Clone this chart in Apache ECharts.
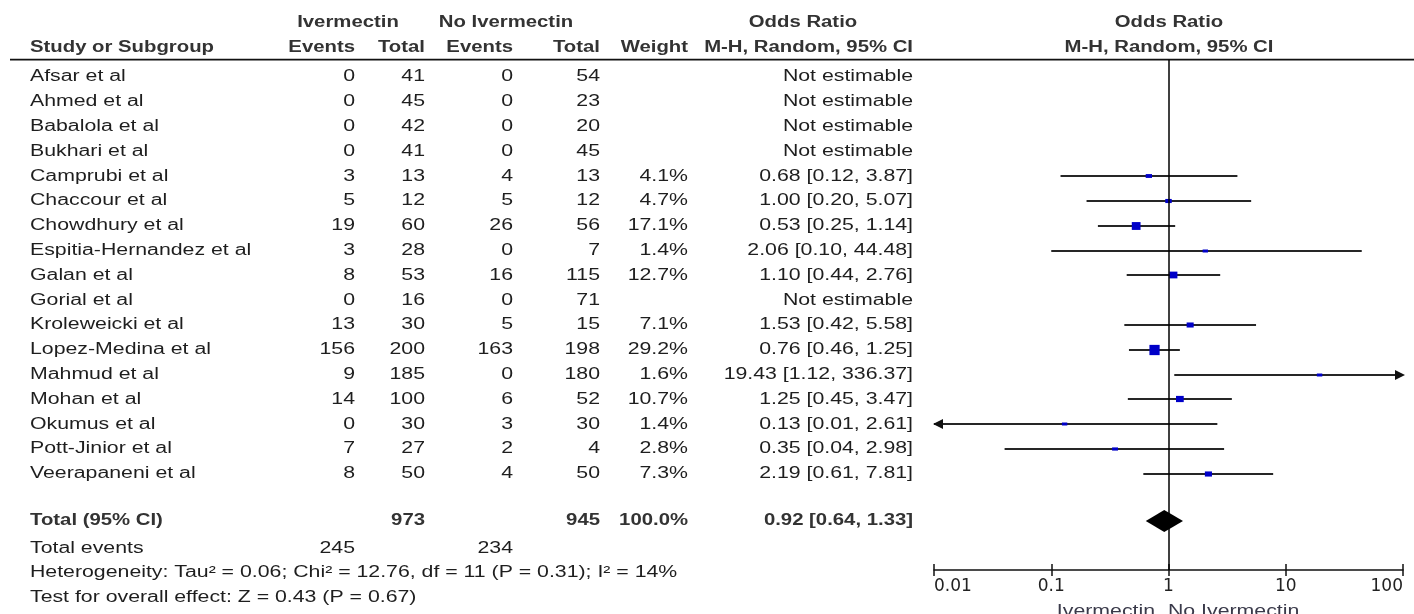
<!DOCTYPE html>
<html>
<head>
<meta charset="utf-8">
<script src="https://cdn.jsdelivr.net/npm/echarts@6/dist/echarts.min.js"></script>
<style>
html,body{margin:0;padding:0;background:#fff;}
#chart{width:1414px;height:614px;}
</style>
</head>
<body>
<div id="chart"></div>
<script>
// ---------------- data ----------------
const studies = ["Afsar et al","Ahmed et al","Babalola et al","Bukhari et al","Camprubi et al","Chaccour et al","Chowdhury et al","Espitia-Hernandez et al","Galan et al","Gorial et al","Kroleweicki et al","Lopez-Medina et al","Mahmud et al","Mohan et al","Okumus et al","Pott-Jinior et al","Veerapaneni et al"];
const ivEvents = [0,0,0,0,3,5,19,3,8,0,13,156,9,14,0,7,8];
const ivTotal  = [41,45,42,41,13,12,60,28,53,16,30,200,185,100,30,27,50];
const noEvents = [0,0,0,0,4,5,26,0,16,0,5,163,0,6,3,2,4];
const noTotal  = [54,23,20,45,13,12,56,7,115,71,15,198,180,52,30,4,50];
const weights  = [null,null,null,null,4.1,4.7,17.1,1.4,12.7,null,7.1,29.2,1.6,10.7,1.4,2.8,7.3];
const orEst    = [null,null,null,null,0.68,1.00,0.53,2.06,1.10,null,1.53,0.76,19.43,1.25,0.13,0.35,2.19];
const ciLow    = [null,null,null,null,0.12,0.20,0.25,0.10,0.44,null,0.42,0.46,1.12,0.45,0.01,0.04,0.61];
const ciHigh   = [null,null,null,null,3.87,5.07,1.14,44.48,2.76,null,5.58,1.25,336.37,3.47,2.61,2.98,7.81];
const totalIv = 973, totalNo = 945, totalWeight = 100.0;
const pooledOR = 0.92, pooledLow = 0.64, pooledHigh = 1.33;
const eventsIv = 245, eventsNo = 234;
const hetText = "Heterogeneity: Tau\u00b2 = 0.06; Chi\u00b2 = 12.76, df = 11 (P = 0.31); I\u00b2 = 14%";
const testText = "Test for overall effect: Z = 0.43 (P = 0.67)";
const tickValues = [0.01, 0.1, 1, 10, 100];
const tickLabels = ["0.01", "0.1", "1", "10", "100"];
const favoursLeft = "Ivermectin", favoursRight = "No Ivermectin";

// ---------------- layout ----------------
const X_MIN = 0.01, X_MAX = 100;
const col = {name: 30, ivE: 355, ivT: 425, noE: 513, noT: 600, wt: 688, ci: 913, ivHead: 348, noHead: 506, orHead: 803, plotHead: 1169};
const rowTop = 77, rowStep = 24.8;
const vHead1 = -2.2, vHead2 = -1.18, vLine = -0.7, vTotal = 17.9, vEvents = 19, vHet = 20, vTest = 21, vFav = 21.55;
const axisPx = 570;
const tableYMin = -rowTop / rowStep, tableYMax = (614 - rowTop) / rowStep;
const forestYMax = (axisPx - rowTop) / rowStep;
const forestTop = rowTop + vLine * rowStep;

const fmt2 = v => v.toFixed(2);
const cells = [];
function cell(x, v, text, align, bold, color) {
  cells.push({x: x, v: v, text: String(text), align: align, bold: !!bold, color: color || (bold ? '#333' : '#1e1e1e')});
}
// headers
cell(col.ivHead, vHead1, "Ivermectin", 'center', true);
cell(col.noHead, vHead1, "No Ivermectin", 'center', true);
cell(col.orHead, vHead1, "Odds Ratio", 'center', true);
cell(col.plotHead, vHead1, "Odds Ratio", 'center', true);
cell(col.name, vHead2, "Study or Subgroup", 'left', true);
cell(col.ivE, vHead2, "Events", 'right', true);
cell(col.ivT, vHead2, "Total", 'right', true);
cell(col.noE, vHead2, "Events", 'right', true);
cell(col.noT, vHead2, "Total", 'right', true);
cell(col.wt, vHead2, "Weight", 'right', true);
cell(col.ci, vHead2, "M-H, Random, 95% CI", 'right', true);
cell(col.plotHead, vHead2, "M-H, Random, 95% CI", 'center', true);
// study rows
studies.forEach((s, i) => {
  cell(col.name, i, s, 'left');
  cell(col.ivE, i, ivEvents[i], 'right');
  cell(col.ivT, i, ivTotal[i], 'right');
  cell(col.noE, i, noEvents[i], 'right');
  cell(col.noT, i, noTotal[i], 'right');
  if (weights[i] != null) cell(col.wt, i, weights[i].toFixed(1) + "%", 'right');
  cell(col.ci, i, orEst[i] == null ? "Not estimable" : fmt2(orEst[i]) + " [" + fmt2(ciLow[i]) + ", " + fmt2(ciHigh[i]) + "]", 'right');
});
// totals
cell(col.name, vTotal, "Total (95% CI)", 'left', true);
cell(col.ivT, vTotal, totalIv, 'right', true);
cell(col.noT, vTotal, totalNo, 'right', true);
cell(col.wt, vTotal, totalWeight.toFixed(1) + "%", 'right', true);
cell(col.ci, vTotal, fmt2(pooledOR) + " [" + fmt2(pooledLow) + ", " + fmt2(pooledHigh) + "]", 'right', true);
cell(col.name, vEvents, "Total events", 'left');
cell(col.ivE, vEvents, eventsIv, 'right');
cell(col.noE, vEvents, eventsNo, 'right');
cell(col.name, vHet, hetText, 'left');
cell(col.name, vTest, testText, 'left');
cell(1155, vFav, favoursLeft, 'right', false, '#3a3a4a');
cell(1168, vFav, favoursRight, 'left', false, '#3a3a4a');

const forestData = [];
studies.forEach((s, i) => {
  if (orEst[i] != null) forestData.push([i, orEst[i], ciLow[i], ciHigh[i], weights[i]]);
});

const chart = echarts.init(document.getElementById('chart'), null, {renderer: 'canvas'});

function renderText(params, api) {
  const c = cells[params.dataIndex];
  const p = api.coord([c.x, c.v]);
  return {
    type: 'text', x: p[0], y: p[1], scaleX: c.bold ? 1.27 : 1.33,
    style: {text: c.text, x: 0, y: 0, align: c.align, verticalAlign: 'middle',
      fontFamily: 'Liberation Sans, Arial, sans-serif', fontSize: 16, fontWeight: c.bold ? 'bold' : 'normal', fill: c.color}
  };
}

function renderStudy(params, api) {
  const row = api.value(0), or = api.value(1), lo = api.value(2), hi = api.value(3), w = api.value(4);
  const y = Math.round(api.coord([1, row])[1]);
  const x1 = api.coord([Math.max(lo, X_MIN), row])[0];
  const x2 = api.coord([Math.min(hi, X_MAX), row])[0];
  const xc = api.coord([or, row])[0];
  const lineColor = '#262626';
  const children = [{
    type: 'line', shape: {x1: x1, y1: y, x2: x2, y2: y},
    style: {stroke: lineColor, lineWidth: 2}
  }];
  if (lo <= X_MIN) children.push({type: 'polygon', shape: {points: [[x1 - 1, y], [x1 + 9, y - 5], [x1 + 9, y + 5]]}, style: {fill: '#111'}});
  if (hi >= X_MAX) children.push({type: 'polygon', shape: {points: [[x2 + 2, y], [x2 - 8, y - 5], [x2 - 8, y + 5]]}, style: {fill: '#111'}});
  const sw = 4 + 1.15 * Math.sqrt(w);
  const sh = Math.max(3, 1.9 * Math.sqrt(w));
  children.push({type: 'rect', shape: {x: xc - sw / 2, y: y - sh / 2, width: sw, height: sh}, style: {fill: '#0000c8'}});
  return {type: 'group', children: children};
}

function renderDiamond(params, api) {
  const row = api.value(0);
  const y = api.coord([1, row])[1];
  const xc = api.coord([api.value(1), row])[0];
  const xl = api.coord([api.value(2), row])[0];
  const xr = api.coord([api.value(3), row])[0];
  const h = 11;
  return {type: 'polygon', shape: {points: [[xl, y], [xc, y - h], [xr, y], [xc, y + h]]}, style: {fill: '#000'}};
}

function tickFormatter(v) {
  let best = 0;
  tickValues.forEach((t, k) => {
    if (Math.abs(Math.log10(t) - Math.log10(v)) < Math.abs(Math.log10(tickValues[best]) - Math.log10(v))) best = k;
  });
  return tickLabels[best];
}

chart.setOption({
  animation: false,
  backgroundColor: '#fff',
  grid: [
    {left: 934, right: 11, top: forestTop, bottom: 614 - axisPx},
    {left: 0, right: 0, top: 0, bottom: 0}
  ],
  xAxis: [
    {
      type: 'log', logBase: 10, min: X_MIN, max: X_MAX, gridIndex: 0, splitNumber: 4,
      axisLine: {show: true, onZero: false, lineStyle: {color: '#111', width: 1.5}},
      axisTick: {show: true, inside: true, length: 6, lineStyle: {color: '#111', width: 1.5}},
      axisLabel: {
        show: true, margin: 8, color: '#222', fontFamily: 'DejaVu Sans', fontSize: 17,
        alignMinLabel: 'left', alignMaxLabel: 'right', formatter: tickFormatter
      },
      splitLine: {show: false}
    },
    {type: 'value', min: 0, max: 1414, gridIndex: 1, show: false},
    {
      type: 'log', logBase: 10, min: X_MIN, max: X_MAX, gridIndex: 0, splitNumber: 4, position: 'bottom',
      axisLine: {show: false, onZero: false},
      axisTick: {show: true, inside: false, length: 6, lineStyle: {color: '#111', width: 1.5}},
      axisLabel: {show: false},
      splitLine: {show: false}
    }
  ],
  yAxis: [
    {type: 'value', inverse: true, min: vLine, max: forestYMax, gridIndex: 0, show: false},
    {type: 'value', inverse: true, min: tableYMin, max: tableYMax, gridIndex: 1, show: false}
  ],
  series: [
    {
      type: 'scatter', xAxisIndex: 0, yAxisIndex: 0, data: [], silent: true,
      markLine: {symbol: 'none', silent: true, label: {show: false}, lineStyle: {color: '#000', width: 1.5, type: 'solid'}, data: [{xAxis: 1}]}
    },
    {
      type: 'line', xAxisIndex: 1, yAxisIndex: 1, symbol: 'none', silent: true,
      lineStyle: {color: '#111', width: 1.8},
      data: [[10, vLine], [1414, vLine]]
    },
    {type: 'custom', xAxisIndex: 0, yAxisIndex: 0, renderItem: renderStudy, data: forestData, silent: true},
    {type: 'custom', xAxisIndex: 0, yAxisIndex: 0, renderItem: renderDiamond, data: [[vTotal, pooledOR, pooledLow, pooledHigh]], silent: true},
    {type: 'custom', xAxisIndex: 1, yAxisIndex: 1, renderItem: renderText, data: cells.map(c => [c.x, c.v]), silent: true}
  ]
});
</script>
</body>
</html>
